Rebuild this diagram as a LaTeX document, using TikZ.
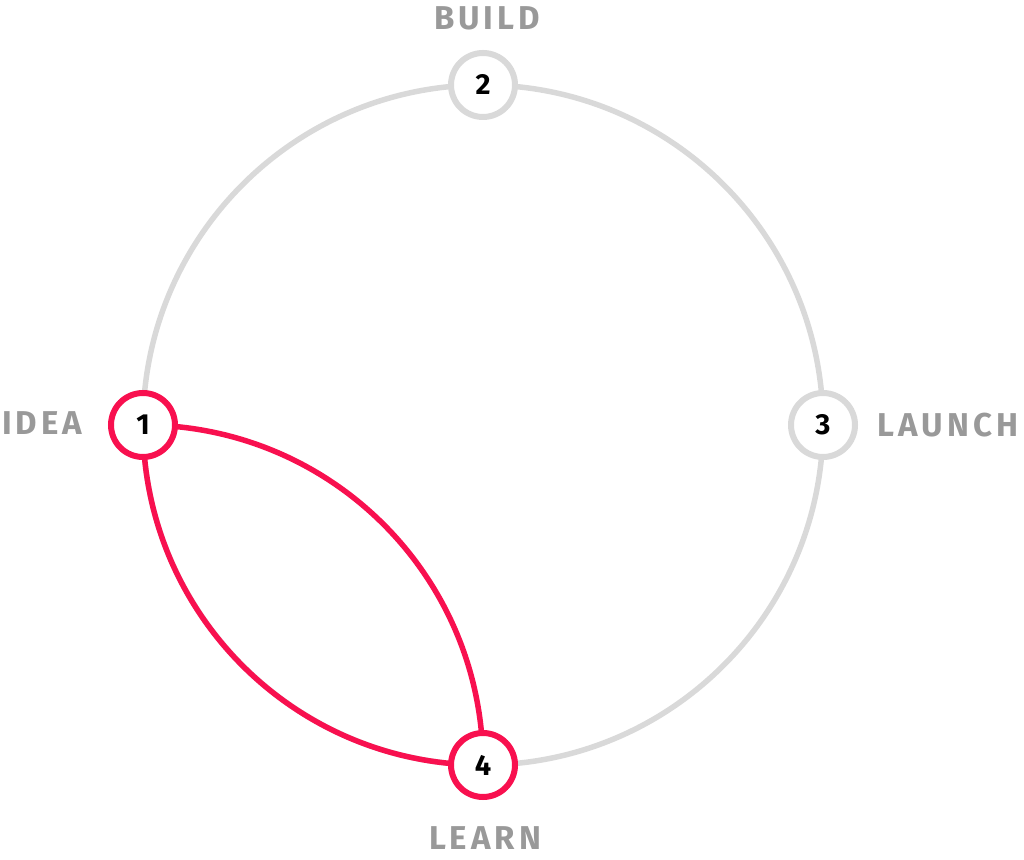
\documentclass[tikz,border=0pt]{standalone}
\usepackage{fontspec}
\setmainfont{Fira Sans}
\newfontfamily\labfont[LetterSpace=12]{Fira Sans}
\usetikzlibrary{backgrounds}
\definecolor{ringgray}{HTML}{D9D9D9}
\definecolor{labgray}{HTML}{999999}
\definecolor{hotred}{HTML}{F8104F}
\begin{document}
\begin{tikzpicture}[x=1pt,y=1pt,
  stage/.style={circle,draw=ringgray,fill=white,line width=6pt,minimum size=64pt,inner sep=0pt,
    font=\fontsize{29}{29}\selectfont\bfseries,text=black},
  active/.style={stage,draw=hotred},
  lab/.style={font=\labfont\fontsize{33}{33}\selectfont\bfseries,text=labgray,inner sep=0pt},
  ring/.style={line width=5.5pt,draw=ringgray},
  redline/.style={line width=5.5pt,draw=hotred}]
\useasboundingbox (0,0) rectangle (1024,859);
\coordinate (c) at (483,434);
\node[active] (n1) at (143,434) {1};
\node[stage]  (n2) at (483,774) {2};
\node[stage]  (n3) at (823,434) {3};
\node[active] (n4) at (483,94) {4};
\node[lab] (lbuild) at (487,841) {BUILD};
\node[lab] (lidea) at (42,436) {IDEA};
\node[lab] (llaunch) at (948,434) {LAUNCH};
\node[lab] (llearn) at (485,21) {LEARN};
\begin{scope}[on background layer]
\draw[ring] (c) circle (340);
\draw[redline] (n1.center) to[out=-90,in=180] (n4.center);
\draw[redline] (n1.center) to[out=0,in=90] (n4.center);
\end{scope}
\end{tikzpicture}
\end{document}
